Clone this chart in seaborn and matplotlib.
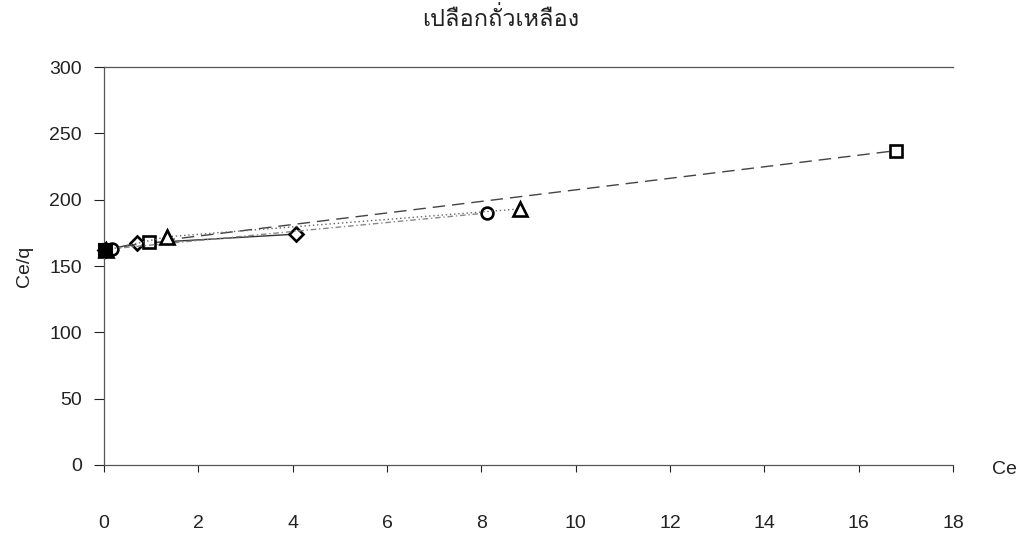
import matplotlib
matplotlib.use("Agg")
import matplotlib.pyplot as plt
import seaborn as sns
import pandas as pd
from matplotlib import font_manager
from matplotlib.ft2font import FT2Font

title_text = "เปลือกถั่วเหลือง"

# values
diamond_x = [0.02, 0.69, 4.06]
diamond_y = [162, 167, 174]
square_x = [0.02, 0.95, 16.8]
square_y = [162, 168, 237]
circle_x = [0.16, 8.13]
circle_y = [163, 190]
triangle_x = [0.05, 1.33, 8.81]
triangle_y = [162, 172, 193]
filled_x = [0.02]
filled_y = [162]

x_ticks = list(range(0, 20, 2))
y_ticks = list(range(0, 350, 50))


def thai_font():
    # look for an installed font that actually has Thai glyphs
    for f in font_manager.fontManager.ttflist:
        try:
            ft = FT2Font(f.fname)
            if ft.get_char_index(ord("เ")) and ft.get_char_index(ord("ื")):
                return f.name
        except Exception:
            continue
    return "DejaVu Sans"


sns.set_style("white")
plt.rcParams["font.family"] = ["Liberation Sans", "DejaVu Sans"]

fig = plt.figure(figsize=(10.22, 5.4), dpi=100)
ax = fig.add_axes([0.1018, 0.1389, 0.8307, 0.737])

series = [
    (diamond_x, diamond_y, "D", "-", 7, "#333333"),
    (square_x, square_y, "s", (0, (9, 5)), 8.5, "#444444"),
    (circle_x, circle_y, "o", (0, (4, 2, 1, 2)), 8.5, "#888888"),
    (triangle_x, triangle_y, "^", (0, (1, 2)), 9.5, "#666666"),
]
for xs, ys, mk, ls, ms, col in series:
    df = pd.DataFrame({"Ce": xs, "Ce/q": ys})
    sns.lineplot(data=df, x="Ce", y="Ce/q", ax=ax, color=col, linewidth=1.0,
                 linestyle=ls, marker=mk, markersize=ms, markerfacecolor="white",
                 markeredgecolor="black", markeredgewidth=1.9, clip_on=False)

sns.scatterplot(x=filled_x, y=filled_y, ax=ax, marker="s", s=100, color="black",
                edgecolor="black", zorder=5, clip_on=False)

ax.set_xlim(0, 18)
ax.set_ylim(0, 300)
ax.set_xticks(x_ticks)
ax.set_yticks(y_ticks)
ax.tick_params(axis="y", direction="out", length=7, width=0.8, pad=9,
               labelsize=14, colors="#222222", left=True)
ax.tick_params(axis="x", direction="out", length=5, width=0.8, pad=31,
               labelsize=14, colors="#222222", bottom=True)

for side in ["left", "bottom", "top"]:
    ax.spines[side].set_color("#555555")
    ax.spines[side].set_linewidth(0.9)
ax.spines["right"].set_visible(False)

ax.set_xlabel("")
ax.set_ylabel("Ce/q", fontsize=14, color="#222222", labelpad=12)
fig.text(0.983, 1 - 469 / 540, "Ce", ha="center", va="center", fontsize=14,
         color="#222222")
fig.text(0.49, 1 - 19 / 540, title_text, ha="center", va="center", fontsize=17,
         color="#222222", family=[thai_font(), "DejaVu Sans"])

fig.savefig("out.png", dpi=100)
plt.close(fig)
